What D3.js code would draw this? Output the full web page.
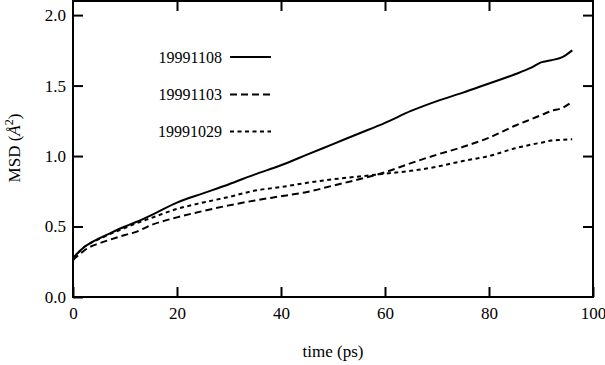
<!DOCTYPE html>
<html><head><meta charset="utf-8">
<script src="https://cdn.jsdelivr.net/npm/d3@7"></script>
<style>
body{margin:0;background:#fff;}
svg text{font-family:"Liberation Serif","DejaVu Serif",serif;font-size:17px;fill:#000;}
svg text.leg{font-size:16px;}
</style></head>
<body><svg id="c" width="605" height="365"></svg>
<script>
const time = [0,0.5,1,2,3,5,7,10,12,15,20,25,30,35,40,45,50,55,60,65,70,75,80,85,88,90,92,94,96];
const s19991108 = [0.27,0.295,0.315,0.35,0.375,0.415,0.45,0.5,0.53,0.58,0.67,0.735,0.80,0.87,0.935,1.01,1.085,1.16,1.235,1.32,1.39,1.45,1.515,1.58,1.625,1.665,1.68,1.70,1.75];
const s19991103 = [0.26,0.28,0.295,0.325,0.35,0.38,0.405,0.44,0.46,0.51,0.565,0.61,0.65,0.685,0.715,0.745,0.79,0.835,0.885,0.95,1.01,1.065,1.13,1.215,1.26,1.29,1.32,1.34,1.385];
const s19991029 = [0.27,0.295,0.315,0.35,0.375,0.41,0.445,0.49,0.52,0.56,0.625,0.67,0.71,0.755,0.78,0.81,0.835,0.855,0.875,0.895,0.925,0.965,1.00,1.055,1.08,1.095,1.11,1.115,1.12];
const seriesNames = ["19991108","19991103","19991029"];
const xTicks = [0,20,40,60,80,100];
const yTicks = [0,0.5,1.0,1.5,2.0];

const series = [
  {name: seriesNames[0], values: s19991108, dash: null},
  {name: seriesNames[1], values: s19991103, dash: "7,4"},
  {name: seriesNames[2], values: s19991029, dash: "4,3.5"}
];

const svg = d3.select("#c");
const L=73, R=593, T=1, B=297;
const x = d3.scaleLinear().domain([0,100]).range([L,R]);
const y = d3.scaleLinear().domain([0,2.1]).range([B,T]);

function styleAxis(g){
  g.select(".domain").remove();
  g.selectAll(".tick line").attr("stroke","#000").attr("stroke-width",2);
  g.selectAll(".tick text").attr("font-family",null).attr("font-size",null);
}
svg.append("g").attr("transform",`translate(0,${B})`)
  .call(d3.axisBottom(x).tickValues(xTicks).tickFormat(d3.format("d")).tickSizeInner(-10).tickSizeOuter(0).tickPadding(10))
  .call(styleAxis);
svg.append("g").attr("transform",`translate(0,${T})`)
  .call(d3.axisTop(x).tickValues(xTicks.slice(1,-1)).tickFormat("").tickSizeInner(-10).tickSizeOuter(0))
  .call(styleAxis);
svg.append("g").attr("transform",`translate(${L},0)`)
  .call(d3.axisLeft(y).tickValues(yTicks).tickFormat(d3.format(".1f")).tickSizeInner(-10).tickSizeOuter(0).tickPadding(7))
  .call(styleAxis);
svg.append("g").attr("transform",`translate(${R},0)`)
  .call(d3.axisRight(y).tickValues(yTicks.slice(1)).tickFormat("").tickSizeInner(-10).tickSizeOuter(0))
  .call(styleAxis);

svg.append("rect").attr("x",L).attr("y",T).attr("width",R-L).attr("height",B-T)
  .attr("fill","none").attr("stroke","#000").attr("stroke-width",2);

const line = d3.line().x((d,i)=>x(time[i])).y(d=>y(d)).curve(d3.curveMonotoneX);
series.forEach(s=>{
  svg.append("path").datum(s.values).attr("d",line)
    .attr("fill","none").attr("stroke","#000").attr("stroke-width",2)
    .attr("stroke-dasharray",s.dash);
});

// legend
const legY = [57,94.5,131.5];
series.forEach((s,i)=>{
  svg.append("text").attr("class","leg").attr("x",222).attr("y",legY[i]+5.5).attr("text-anchor","end").text(s.name);
  svg.append("line").attr("x1",230).attr("x2",271).attr("y1",legY[i]).attr("y2",legY[i])
    .attr("stroke","#000").attr("stroke-width",2).attr("stroke-dasharray",s.dash);
});

// axis labels
svg.append("text").attr("x",(L+R)/2).attr("y",357).attr("text-anchor","middle").text("time (ps)");
const yl = svg.append("text").attr("transform","translate(20,148) rotate(-90)").attr("text-anchor","middle");
yl.append("tspan").text("MSD (");
yl.append("tspan").attr("font-style","italic").text("Å");
yl.append("tspan").attr("font-size","12px").attr("dy","-7").text("2");
yl.append("tspan").attr("dy","7").text(")");
</script></body></html>
